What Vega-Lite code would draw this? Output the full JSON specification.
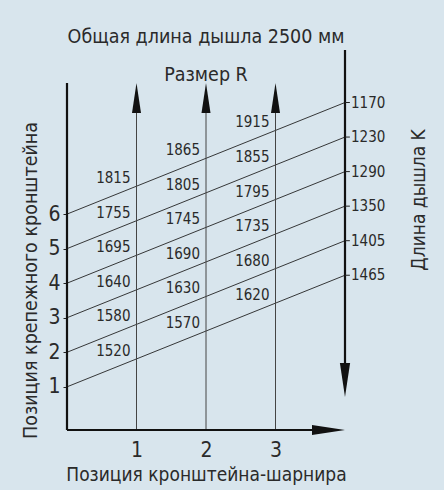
{
  "$schema": "https://vega.github.io/schema/vega-lite/v6.json",
  "width": 278,
  "height": 380,
  "autosize": {"type": "none"},
  "padding": {"left": 67, "top": 50, "right": 99, "bottom": 60},
  "background": "#d8e5ed",
  "config": {
    "font": "DejaVu Sans Condensed, sans-serif",
    "view": {"stroke": null},
    "text": {"font": "DejaVu Sans Condensed, sans-serif", "color": "#2a2a2a"}
  },
  "datasets": {
    "lines": [
      {"pos": 1, "x": 0, "y": 1}, {"pos": 1, "x": 4, "y": 4.23},
      {"pos": 2, "x": 0, "y": 2}, {"pos": 2, "x": 4, "y": 5.23},
      {"pos": 3, "x": 0, "y": 3}, {"pos": 3, "x": 4, "y": 6.23},
      {"pos": 4, "x": 0, "y": 4}, {"pos": 4, "x": 4, "y": 7.23},
      {"pos": 5, "x": 0, "y": 5}, {"pos": 5, "x": 4, "y": 8.23},
      {"pos": 6, "x": 0, "y": 6}, {"pos": 6, "x": 4, "y": 9.23}
    ],
    "cols": [{"col": 1}, {"col": 2}, {"col": 3}],
    "rightLabels": [
      {"pos": 6, "len": 1170, "y": 9.23},
      {"pos": 5, "len": 1230, "y": 8.23},
      {"pos": 4, "len": 1290, "y": 7.23},
      {"pos": 3, "len": 1350, "y": 6.23},
      {"pos": 2, "len": 1405, "y": 5.23},
      {"pos": 1, "len": 1465, "y": 4.23}
    ],
    "cells": [
      {"col": 1, "pos": 6, "y": 6.81, "len": 1815},
      {"col": 1, "pos": 5, "y": 5.81, "len": 1755},
      {"col": 1, "pos": 4, "y": 4.81, "len": 1695},
      {"col": 1, "pos": 3, "y": 3.81, "len": 1640},
      {"col": 1, "pos": 2, "y": 2.81, "len": 1580},
      {"col": 1, "pos": 1, "y": 1.81, "len": 1520},
      {"col": 2, "pos": 6, "y": 7.62, "len": 1865},
      {"col": 2, "pos": 5, "y": 6.62, "len": 1805},
      {"col": 2, "pos": 4, "y": 5.62, "len": 1745},
      {"col": 2, "pos": 3, "y": 4.62, "len": 1690},
      {"col": 2, "pos": 2, "y": 3.62, "len": 1630},
      {"col": 2, "pos": 1, "y": 2.62, "len": 1570},
      {"col": 3, "pos": 6, "y": 8.42, "len": 1915},
      {"col": 3, "pos": 5, "y": 7.42, "len": 1855},
      {"col": 3, "pos": 4, "y": 6.42, "len": 1795},
      {"col": 3, "pos": 3, "y": 5.42, "len": 1735},
      {"col": 3, "pos": 2, "y": 4.42, "len": 1680},
      {"col": 3, "pos": 1, "y": 3.42, "len": 1620}
    ]
  },
  "layer": [
    {
      "data": {"name": "lines"},
      "mark": {"type": "line", "color": "#222", "strokeWidth": 0.9},
      "encoding": {
        "x": {
          "field": "x", "type": "quantitative",
          "scale": {"domain": [0, 4], "nice": false, "zero": false},
          "axis": {
            "values": [1, 2, 3], "format": "d", "domain": false, "ticks": false, "grid": false,
            "labelFontSize": 21, "labelColor": "#2a2a2a", "labelPadding": 9,
            "title": "Позиция кронштейна-шарнира", "titleFontSize": 19,
            "titleFontWeight": "normal", "titleColor": "#2a2a2a", "titlePadding": 5
          }
        },
        "y": {
          "field": "y", "type": "quantitative",
          "scale": {"domain": [-0.25, 10.75], "nice": false, "zero": false},
          "axis": {
            "values": [1, 2, 3, 4, 5, 6], "format": "d", "domain": false, "grid": false,
            "ticks": true, "tickSize": 4, "tickColor": "#222", "tickWidth": 1,
            "labelFontSize": 21, "labelColor": "#2a2a2a", "labelPadding": 3,
            "title": "Позиция крепежного кронштейна", "titleFontSize": 19.5,
            "titleFontWeight": "normal", "titleColor": "#2a2a2a",
            "titleAngle": -90, "titleX": -37, "titleY": 230,
            "titleAlign": "center", "titleBaseline": "middle"
          }
        },
        "detail": {"field": "pos"}
      }
    },
    {
      "data": {"name": "cols"},
      "mark": {"type": "rule", "color": "#444", "strokeWidth": 1},
      "encoding": {
        "x": {"field": "col", "type": "quantitative"},
        "y": {"datum": -0.25},
        "y2": {"datum": 9.6}
      }
    },
    {
      "data": {"name": "cols"},
      "mark": {"type": "point", "filled": true, "opacity": 1, "color": "#111", "shape": "M0,-1L0.3,1L-0.3,1Z", "size": 900},
      "encoding": {
        "x": {"field": "col", "type": "quantitative"},
        "y": {"datum": 9.36}
      }
    },
    {
      "data": {"values": [{}]},
      "mark": {"type": "rule", "color": "#111", "strokeWidth": 2.2},
      "encoding": {"x": {"datum": 0}, "y": {"datum": -0.25}, "y2": {"datum": 9.795}}
    },
    {
      "data": {"values": [{}]},
      "mark": {"type": "rule", "color": "#111", "strokeWidth": 2.2},
      "encoding": {"x": {"datum": 0}, "x2": {"datum": 3.8}, "y": {"datum": -0.25}}
    },
    {
      "data": {"values": [{}]},
      "mark": {"type": "point", "filled": true, "opacity": 1, "color": "#111", "shape": "M1,0L-1,-0.3L-1,0.3Z", "size": 1089},
      "encoding": {"x": {"datum": 3.763}, "y": {"datum": -0.25}}
    },
    {
      "data": {"values": [{}]},
      "mark": {"type": "rule", "color": "#111", "strokeWidth": 2.2},
      "encoding": {"x": {"datum": 4}, "y": {"datum": 10.75}, "y2": {"datum": 1.3}}
    },
    {
      "data": {"values": [{}]},
      "mark": {"type": "point", "filled": true, "opacity": 1, "color": "#111", "shape": "M0,1L0.3,-1L-0.3,-1Z", "size": 1156},
      "encoding": {"x": {"datum": 4}, "y": {"datum": 1.197}}
    },
    {
      "data": {"name": "rightLabels"},
      "mark": {"type": "rule", "color": "#222", "strokeWidth": 1},
      "encoding": {"x": {"datum": 4}, "x2": {"datum": 4.07}, "y": {"field": "y", "type": "quantitative"}}
    },
    {
      "data": {"name": "rightLabels"},
      "mark": {"type": "text", "align": "left", "baseline": "middle", "dx": 6, "fontSize": 15},
      "encoding": {
        "x": {"datum": 4},
        "y": {"field": "y", "type": "quantitative"},
        "text": {"field": "len"}
      }
    },
    {
      "data": {"name": "cells"},
      "mark": {"type": "text", "align": "right", "baseline": "middle", "dx": -6, "dy": -8, "fontSize": 15},
      "encoding": {
        "x": {"field": "col", "type": "quantitative"},
        "y": {"field": "y", "type": "quantitative"},
        "text": {"field": "len"}
      }
    },
    {
      "data": {"values": [{}]},
      "mark": {"type": "text", "align": "center", "baseline": "middle", "fontSize": 19.5},
      "encoding": {"x": {"datum": 2}, "y": {"datum": 11.13}, "text": {"value": "Общая длина дышла 2500 мм"}}
    },
    {
      "data": {"values": [{}]},
      "mark": {"type": "text", "align": "center", "baseline": "middle", "fontSize": 19.5},
      "encoding": {"x": {"datum": 2}, "y": {"datum": 10.03}, "text": {"value": "Размер R"}}
    },
    {
      "data": {"values": [{}]},
      "mark": {"type": "text", "align": "center", "baseline": "middle", "fontSize": 19, "angle": 270},
      "encoding": {"x": {"datum": 5.065}, "y": {"datum": 6.41}, "text": {"value": "Длина дышла K"}}
    }
  ]
}
